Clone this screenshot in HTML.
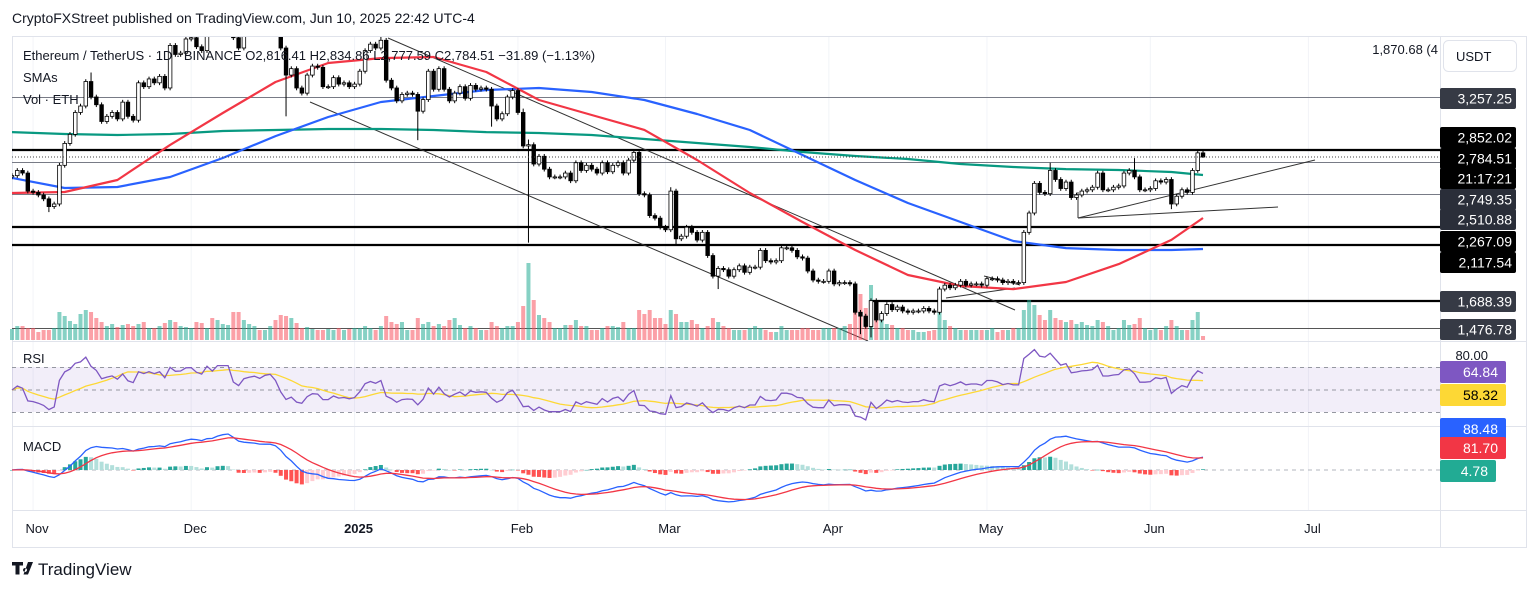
<!DOCTYPE html>
<html><head><meta charset="utf-8">
<style>
html,body{margin:0;padding:0;background:#fff;}
body{width:1536px;height:591px;overflow:hidden;font-family:"Liberation Sans",sans-serif;}
svg text{font-family:"Liberation Sans",sans-serif;}
</style></head>
<body>
<svg id="c" width="1536" height="591" viewBox="0 0 1536 591" xmlns="http://www.w3.org/2000/svg">
<defs><clipPath id="pclip"><rect x="12" y="37" width="1428" height="304"/></clipPath></defs>
<text x="12" y="23" font-size="14" fill="#131722">CryptoFXStreet published on TradingView.com, Jun 10, 2025 22:42 UTC-4</text>
<rect x="12.5" y="36.5" width="1514" height="511" fill="none" stroke="#e0e3eb"/>
<g id="grid"></g>
<g id="drawings" clip-path="url(#pclip)">
<line x1="12" y1="97.5" x2="1440" y2="97.5" stroke="#787b86" stroke-width="1"/>
<line x1="12" y1="150" x2="1440" y2="150" stroke="#000" stroke-width="2.2"/>
<line x1="12" y1="162.5" x2="1440" y2="162.5" stroke="#787b86" stroke-width="1"/>
<line x1="12" y1="194.5" x2="1440" y2="194.5" stroke="#787b86" stroke-width="1"/>
<line x1="12" y1="227" x2="1440" y2="227" stroke="#000" stroke-width="2.2"/>
<line x1="12" y1="245" x2="1440" y2="245" stroke="#000" stroke-width="2.2"/>
<line x1="872" y1="301" x2="1440" y2="301" stroke="#000" stroke-width="2.2"/>
<line x1="12" y1="328.5" x2="1440" y2="328.5" stroke="#555" stroke-width="1"/>
<line x1="388" y1="38" x2="1015" y2="310" stroke="#333" stroke-width="1"/>
<line x1="310" y1="102" x2="868" y2="341" stroke="#333" stroke-width="1"/>
<line x1="1078" y1="218" x2="1315" y2="160" stroke="#333" stroke-width="1"/>
<line x1="1078" y1="218" x2="1278" y2="207" stroke="#333" stroke-width="1"/>
<line x1="1078" y1="192" x2="1078" y2="218" stroke="#333" stroke-width="1"/>
<line x1="984" y1="276" x2="1020" y2="285" stroke="#333" stroke-width="1"/>
<line x1="946" y1="298" x2="1015" y2="288" stroke="#333" stroke-width="1"/>
</g>
<g id="vol"></g>
<g id="smas" clip-path="url(#pclip)"></g>
<g id="candles" clip-path="url(#pclip)"></g>
<line id="curline" x1="12" x2="1440" stroke="#444" stroke-width="1" stroke-dasharray="1,2"/>
<g id="rsi"></g>
<g id="macd"></g>
<line x1="12" y1="341.5" x2="1527" y2="341.5" stroke="#e0e3eb"/>
<line x1="12" y1="426.5" x2="1527" y2="426.5" stroke="#e0e3eb"/>
<line x1="12" y1="510.5" x2="1527" y2="510.5" stroke="#e0e3eb"/>
<line x1="1440.5" y1="36" x2="1440.5" y2="548" stroke="#e0e3eb"/>
<g id="taxis"></g>
<g>
<text x="23" y="60" font-size="13" fill="#131722">Ethereum / TetherUS · 1D · BINANCE  O2,816.41  H2,834.86  L2,777.59  C2,784.51  −31.89 (−1.13%)</text>
<text x="23" y="82" font-size="13" fill="#131722">SMAs</text>
<text x="23" y="104" font-size="13" fill="#131722">Vol · ETH</text>
<text x="23" y="363" font-size="13" fill="#131722">RSI</text>
<text x="23" y="451" font-size="13" fill="#131722">MACD</text>
</g>
<rect x="1441" y="37" width="85" height="304" fill="#fff"/>
<text x="1438" y="54" font-size="13" fill="#131722" text-anchor="end">1,870.68 (4</text>
<rect x="1443.5" y="40.5" width="73" height="31" rx="5" fill="#fff" stroke="#e0e3eb"/>
<text x="1456" y="61" font-size="13" fill="#131722">USDT</text>
<g id="plabels"></g>
<g>
<path d="M12 562h11v3.5h-3.5v9h-4v-9H12z M25 568a2 2 0 1 0 0.01 0z M28 562h5l-5 12.5h-4.5z" fill="#131722"/>
<text x="38" y="575" font-size="17" fill="#131722">TradingView</text>
</g>
</svg>
<script>
// ---- data (Oct 28 2024 .. Jun 11 2025, daily) ----
const closes = [2640,2680,2660,2520,
2510,2490,2460,2400,2420,2720,2890,2960,3130,3180,3370,3250,3190,3060,3100,3130,3080,3210,3100,3070,3360,3330,3390,3360,3410,3320,3650,3580,3590,3700,
3710,3640,3610,3870,3790,4000,4000,4000,3710,3630,3830,3880,3910,3870,3960,3990,3880,3630,3420,3470,3320,3280,3420,3490,3480,3330,3330,3400,3350,3360,3330,
3350,3450,3610,3660,3630,3690,3380,3320,3220,3270,3280,3270,3140,3230,3450,3310,3470,3310,3220,3280,3330,3240,3340,3310,3320,3310,3180,3080,3120,3250,3300,
3130,2870,2880,2730,2790,2690,2630,2630,2630,2660,2600,2740,2680,2720,2690,2660,2740,2670,2720,2740,2660,2760,2820,2500,2490,2330,2310,2240,
2220,2520,2150,2170,2240,2200,2140,2200,2020,1860,1920,1910,1860,1910,1940,1890,1930,1930,2060,1980,1970,1980,2080,2080,2060,2010,2000,1900,1830,1820,1820,
1900,1800,1810,1810,1800,1580,1550,1470,1670,1520,1570,1640,1600,1620,1590,1580,1590,1590,1610,1590,1580,1760,1790,1770,1790,1820,1790,1800,1800,1790,
1840,1840,1830,1810,1820,1810,1810,2200,2350,2580,2510,2500,2680,2610,2540,2590,2470,2490,2520,2530,2550,2660,2530,2530,2550,2560,2660,2680,2630,2530,2530,
2540,2600,2590,2610,2420,2480,2530,2510,2680,2816.41,2784.51];
const firstOpen = 2630;
const volumes = [11,14,14,12,
12,8,10,10,12,28,24,19,16,26,30,28,22,18,14,16,13,15,16,14,16,18,12,12,14,17,20,18,14,13,
12,18,17,12,22,20,16,15,28,28,20,16,14,10,10,14,20,25,24,22,17,12,13,11,10,10,11,10,12,10,11,
12,12,14,12,10,14,24,18,16,18,10,10,22,16,18,14,16,14,20,22,15,12,14,12,10,10,18,14,12,14,14,
18,34,77,40,25,22,18,12,12,15,15,20,14,14,10,10,12,14,14,13,18,12,12,30,26,30,22,22,
16,30,26,18,18,20,16,12,14,22,18,14,12,10,10,10,12,14,12,10,8,8,14,10,10,10,12,12,10,10,12,
12,12,12,14,16,38,46,32,55,30,24,16,15,12,12,10,10,8,8,9,10,28,20,14,12,10,10,10,10,10,
10,12,8,10,10,12,12,30,40,35,25,20,30,22,20,18,20,16,18,15,14,20,18,14,10,12,20,15,16,22,12,
10,12,10,14,20,14,10,10,20,28,4];
// notable highs / lows [index, high, low]
const extremes = [[7,null,2357],[15,3440,null],[39,4090,null],[49,4107,null],[52,null,3100],[70,3745,null],[77,null,2915],[91,null,3020],
[97,3160,null],[98,2920,2120],[125,2550,null],[126,null,2100],[134,null,1760],[161,null,1410],[163,null,1385],[197,2740,null],[213,2776,null],[220,null,2380],[226,2834.86,2777.59]];
// SMA samples every 10 bars (index 0..220) plus last (226)
const smaIdx = [0,10,20,30,40,50,60,70,80,90,100,110,120,130,140,150,160,170,180,190,200,210,220,226];
const sma50  = [2505,2513,2606,2878,3126,3366,3514,3552,3560,3444,3227,3110,2995,2761,2505,2280,2063,1869,1784,1760,1815,1954,2141,2311];
const sma100 = [2622,2544,2552,2629,2777,2947,3095,3211,3258,3304,3320,3289,3227,3118,2994,2800,2606,2428,2280,2133,2078,2063,2063,2071];
const sma200 = [2978,2963,2955,2963,2986,2994,3002,3002,2994,2978,2971,2955,2924,2893,2862,2823,2792,2769,2730,2707,2691,2684,2668,2645];
const monthLabels = ["Nov","Dec","2025","Feb","Mar","Apr","May","Jun","Jul"];
const monthIdx = [4,34,65,96,124,155,185,216,246];
const priceLabels = [["3,257.25",88,"#363a45"],["2,852.02",127,"#000"],["2,784.51",148,"#000"],["21:17:21",168,"#000"],["2,749.35",189,"#2a2e39"],["2,510.88",209,"#2a2e39"],["2,267.09",231,"#000"],["2,117.54",252,"#000"],["1,688.39",291,"#363a45"],["1,476.78",319,"#363a45"]];
const indLabels = [["64.84",361,"#7e57c2","#fff"],["58.32",384,"#fdd835","#000"],["88.48",418,"#2962ff","#fff"],["81.70",437,"#f23645","#fff"],["4.78",460,"#22ab94","#fff"]];

// ---- scales ----
const NS="http://www.w3.org/2000/svg";
const X0=12, DX=5.27;
const xOf=i=>X0+i*DX;
const yOf=p=>157+(2784.51-p)*0.1289;
const rsiY=r=>390-(r-50)*1.125;
const MZ=470;
function el(tag,attrs,parent){const e=document.createElementNS(NS,tag);for(const k in attrs)e.setAttribute(k,attrs[k]);parent.appendChild(e);return e;}
const $=id=>document.getElementById(id);

// grid
const grid=$("grid");
monthIdx.forEach((mi)=>{
  const g=el("line",{x1:xOf(mi),x2:xOf(mi),y1:37,y2:510,stroke:"#f2f4f8","stroke-width":1},grid);
  
  
});
const rb=el("rect",{x:12,y:367,width:1428,height:45,fill:"rgba(126,87,194,0.1)"},$("rsi"));


[70,50,30].forEach(v=>{
  const l=el("line",{x1:12,x2:1440,y1:rsiY(v),y2:rsiY(v),stroke:"#9598a1","stroke-dasharray":"4,4","stroke-width":1},$("rsi"));
  
  
});
const zl=el("line",{x1:12,x2:1440,y1:MZ,y2:MZ,stroke:"#b2b5be","stroke-dasharray":"4,4"},$("macd"));



// candles & volume
const hi={},lo={};extremes.forEach(e=>{if(e[1]!=null)hi[e[0]]=e[1];if(e[2]!=null)lo[e[0]]=e[2];});
const WICK=18;
const cg=$("candles"), vg=$("vol");
const vmax=Math.max(...volumes);
for(let i=0;i<closes.length;i++){
  const o=i?closes[i-1]:firstOpen, c=closes[i];
  const h=hi[i]!=null?hi[i]:Math.max(o,c)+WICK, l=lo[i]!=null?lo[i]:Math.min(o,c)-WICK;
  const x=xOf(i), up=c>=o;
  const w=el("line",{x1:x,x2:x,y1:yOf(h),y2:yOf(l),stroke:"#000","stroke-width":1},cg);
  
  
  const top=yOf(Math.max(o,c)), bot=yOf(Math.min(o,c));
  const b=el("rect",{x:x-1.8,y:top,width:3.6,height:Math.max(bot-top,1),fill:up?"#fff":"#000",stroke:"#000","stroke-width":0.8},cg);
  
  
  const vh=volumes[i]/vmax*77;
  const v=el("rect",{x:x-2,y:340-vh,width:4,height:vh,fill:up?"rgba(34,171,148,0.55)":"rgba(247,82,95,0.55)"},vg);
  
  
}
const last=closes[closes.length-1];
$("curline").setAttribute("y1",yOf(last));$("curline").setAttribute("y2",yOf(last));

// SMAs
[[sma200,"#089981"],[sma100,"#2962ff"],[sma50,"#f23645"]].forEach((arr,k)=>{
  const pts=arr[0].map((v,j)=>xOf(smaIdx[j]).toFixed(1)+","+yOf(v).toFixed(1)).join(" ");
  const p=el("polyline",{points:pts,fill:"none",stroke:arr[1],"stroke-width":2.2,"stroke-linejoin":"round"},$("smas"));
  
  
});

// RSI
const rsi=[];let ag=0,al=0;
for(let i=0;i<closes.length;i++){
  const ch=i?closes[i]-closes[i-1]:0, g=Math.max(ch,0), L=Math.max(-ch,0);
  if(i===0){ag=20;al=20;} else {ag=(ag*13+g)/14;al=(al*13+L)/14;}
  rsi.push(100-100/(1+ag/(al||1e-9)));
}
const rsiMa=rsi.map((v,i)=>{const s=rsi.slice(Math.max(0,i-13),i+1);return s.reduce((a,b)=>a+b,0)/s.length;});
const lp=a=>a.map((v,i)=>xOf(i).toFixed(1)+","+rsiY(v).toFixed(1)).join(" ");
const rm=el("polyline",{points:lp(rsiMa),fill:"none",stroke:"#fdd835","stroke-width":1.3},$("rsi"));


const rl=el("polyline",{points:lp(rsi),fill:"none",stroke:"#7e57c2","stroke-width":1.3},$("rsi"));



// MACD
function ema(a,n){const k=2/(n+1);const o=[];a.forEach((v,i)=>o.push(i?v*k+o[i-1]*(1-k):v));return o;}
const e12=ema(closes,12),e26=ema(closes,26);
const macd=e12.map((v,i)=>v-e26[i]);
const sig=ema(macd,9);
const hist=macd.map((v,i)=>v-sig[i]);
const mmax=Math.max(...macd.map(Math.abs),...sig.map(Math.abs));
const mk=36/mmax;
const mY=v=>MZ-v*mk;
hist.forEach((h,i)=>{
  const prev=i?hist[i-1]:0;
  const col=h>=0?(h>=prev?"#26a69a":"#b2dfdb"):(h<prev?"#ff5252":"#ffcdd2");
  const y=Math.min(MZ,mY(h)), hh=Math.abs(mY(h)-MZ);
  const r=el("rect",{x:xOf(i)-2,y:y,width:4,height:Math.max(hh,0.5),fill:col},$("macd"));
  
  
});
const mp=a=>a.map((v,i)=>xOf(i).toFixed(1)+","+mY(v).toFixed(1)).join(" ");
const ml=el("polyline",{points:mp(macd),fill:"none",stroke:"#2962ff","stroke-width":1.3},$("macd"));


const sl=el("polyline",{points:mp(sig),fill:"none",stroke:"#f23645","stroke-width":1.3},$("macd"));



// time axis
monthLabels.forEach((m,k)=>{
  const t=el("text",{x:xOf(monthIdx[k])+4,y:533,"font-size":13,fill:"#131722","text-anchor":"middle","font-weight":m==="2025"?"bold":"normal"},$("taxis"));
  t.textContent=m;
  
  
});

// price labels
const pl=$("plabels");
priceLabels.forEach(p=>{
  const r=el("rect",{x:1440,y:p[1],width:76,height:21,rx:2,fill:p[2]},pl);
  
  
  const t=el("text",{x:1512,y:p[1]+15.5,"font-size":14,fill:"#fff","text-anchor":"end"},pl);
  t.textContent=p[0];
  
  
});
const t80=el("text",{x:1488,y:360,"font-size":13,fill:"#131722","text-anchor":"end"},pl);
t80.textContent="80.00";


indLabels.forEach(p=>{
  const r=el("rect",{x:1440,y:p[1],width:p[0]==="4.78"?56:66,height:22,rx:2,fill:p[2]},pl);
  
  
  const t=el("text",{x:p[0]==="4.78"?1488:1498,y:p[1]+16,"font-size":14,fill:p[3],"text-anchor":"end"},pl);
  t.textContent=p[0];
  
  
});
</script>
</body></html>
